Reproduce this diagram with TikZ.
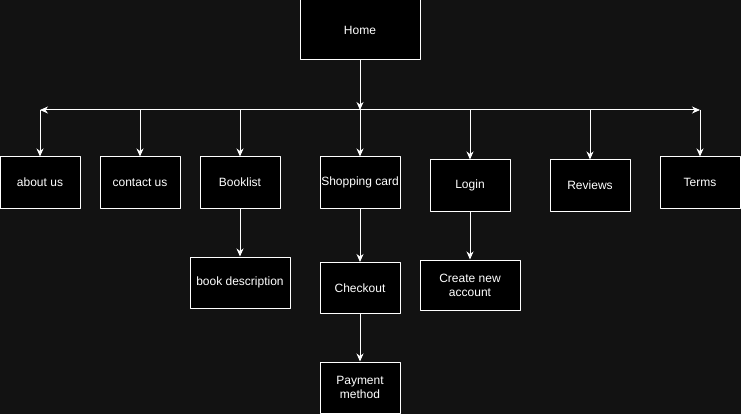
\documentclass[tikz,border=0pt]{standalone}
\usepackage{fontspec}
\setmainfont{Liberation Sans}
\usetikzlibrary{arrows.meta}
\definecolor{bgdark}{RGB}{18,18,18}
\tikzset{
	page/.style={x=1pt, y=-1pt},
	pagebox/.style={draw=white, fill=black, text=white, line width=1pt, inner sep=1pt,
		minimum width=80pt, minimum height=51pt, align=center},
	link/.style={->, draw=white, line width=1pt}
}
\begin{document}
\begin{tikzpicture}[page, font=\fontsize{12}{14}\selectfont, line join=round,
	>={Stealth[length=8pt, width=7pt, inset=2.5pt]}]
	\fill[bgdark] (0,0) rectangle (741,414);
	\useasboundingbox (0,0) rectangle (741,414);
	% Trang chính
	\node[pagebox, minimum width=120pt, minimum height=60pt] (home) at (360,30) {Home};
	% Hàng thứ nhất
	\node[pagebox] (about) at (40,182.5) {about us};
	\node[pagebox] (contact) at (140,182.5) {contact us};
	\node[pagebox] (booklist) at (240,182.5) {Booklist};
	\node[pagebox] (shop) at (360,182.5) {Shopping card};
	\node[pagebox] (login) at (470,185.5) {Login};
	\node[pagebox] (reviews) at (590,185.5) {Reviews};
	\node[pagebox] (terms) at (700,182.5) {Terms};
	% Hàng thứ hai
	\node[pagebox, minimum width=100pt] (bookdesc) at (240,282.5) {book description};
	\node[pagebox] (checkout) at (360,288) {Checkout};
	\node[pagebox, minimum width=100pt, minimum height=50pt] (account) at (470,285) {Create new\\account};
	\node[pagebox] (payment) at (360,387.5) {Payment\\method};
	% Đường ngang
	\coordinate (J) at (360,110);
	\coordinate (L) at (40,110);
	\coordinate (R) at (700,110);
	\draw[link] (home) -- (J);
	\draw[link] (J) -- (L);
	\draw[link] (J) -- (R);
	\draw[link] (L) -- (about);
	\draw[link] (R) -- (terms);
	\foreach \n in {contact,booklist,shop,login,reviews}
		\draw[link] (\n.north |- J) -- (\n);
	\draw[link] (booklist) -- (bookdesc);
	\draw[link] (shop) -- (checkout);
	\draw[link] (login) -- (account);
	\draw[link] (checkout) -- (payment);
\end{tikzpicture}
\end{document}
